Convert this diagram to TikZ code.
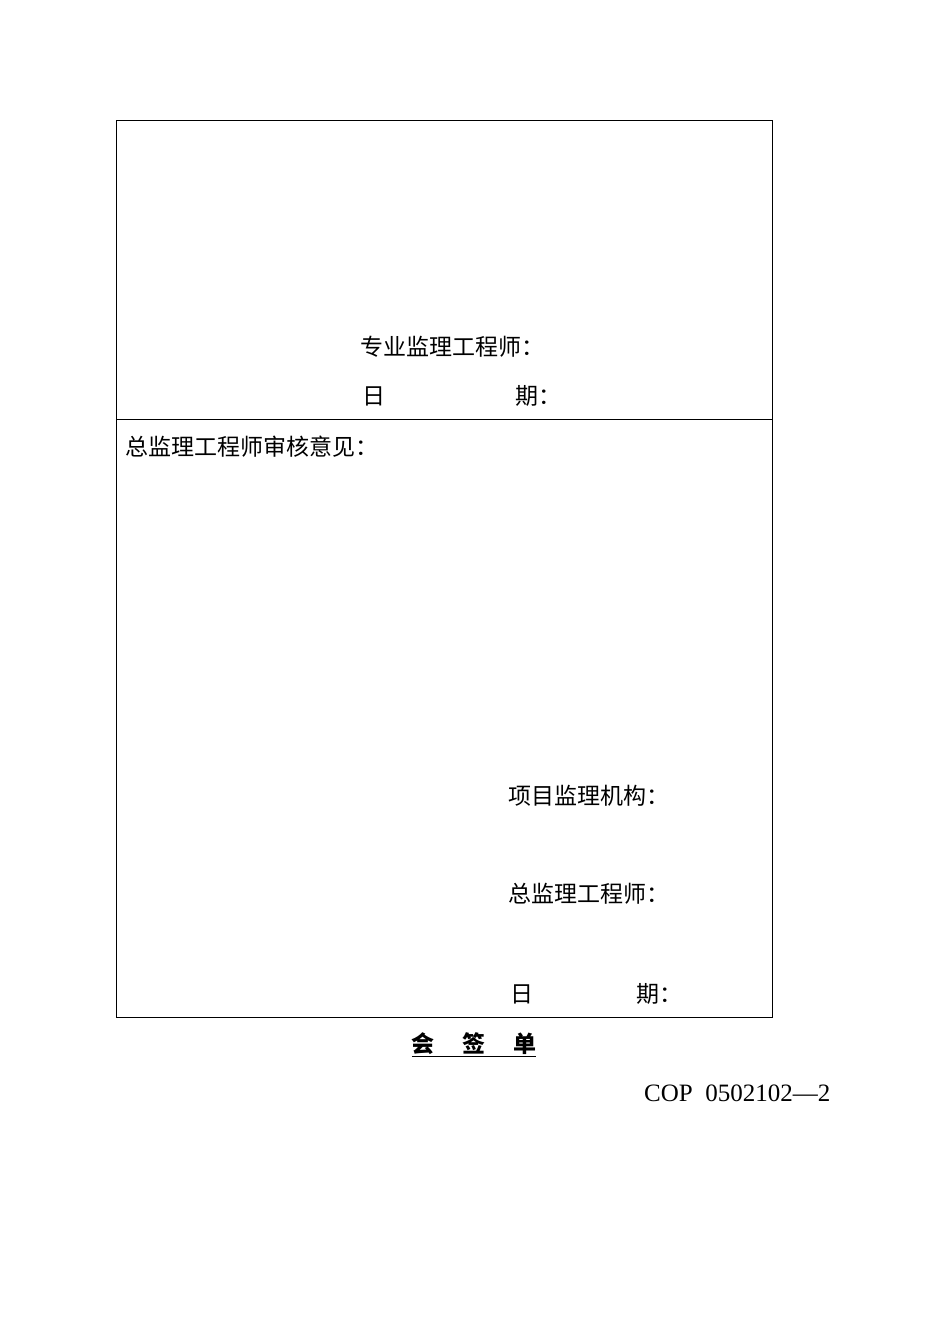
\documentclass[tikz,border=0pt]{standalone}
\usepackage{fontspec}
\setmainfont{Liberation Serif}
\newfontfamily\cjk{Noto Sans CJK SC}
\begin{document}
\begin{tikzpicture}[x=1pt,y=-1pt,
  t/.style={anchor=west,inner sep=0pt,font=\cjk\fontsize{23}{25}\selectfont}]
\useasboundingbox (0,0) rectangle (950,1344);
\draw[line width=0.8pt] (116,120) rectangle (772,1017);
\draw[line width=0.8pt] (116,419) -- (772,419);
\node[t] (a) at (360,347) {专业监理工程师：};
\node[t] (b) at (362,396) {日};
\node[t] (c) at (515,396) {期：};
\node[t] (d) at (125,447) {总监理工程师审核意见：};
\node[t] (e) at (508,796) {项目监理机构：};
\node[t] (f) at (508,894) {总监理工程师：};
\node[t] (g) at (510,994) {日};
\node[t] (h) at (636,994) {期：};
\node[inner sep=0pt,font=\cjk\bfseries\fontsize{23}{25}\selectfont] (i) at (474,1045) {\underline{会\hspace{1.2em}签\hspace{1.2em}单}};
\node[anchor=west,inner sep=0pt,font=\fontsize{25}{27}\selectfont] (j) at (644,1093) {COP\ \ 0502102—2};
\end{tikzpicture}
\end{document}
